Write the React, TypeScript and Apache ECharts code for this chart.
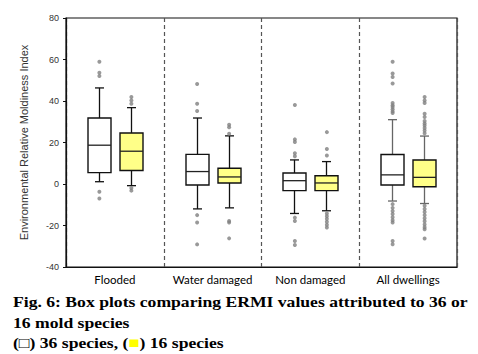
import React, { useEffect, useRef } from "react";
import * as echarts from "echarts";

const categories = ["Flooded", "Water damaged", "Non damaged", "All dwellings"];
const yTicks = { min: -40, max: 80, interval: 20 };

// [lower whisker, Q1, median, Q3, upper whisker]
const box36 = [
  [1.1, 5.5, 18.7, 31.8, 46.3],
  [-12.0, -0.5, 6.0, 14.3, 31.8],
  [-14.2, -3.2, 1.6, 5.3, 11.6],
  [-8.2, -0.5, 4.4, 14.2, 31.0],
];
const box16 = [
  [-0.8, 6.5, 15.8, 24.6, 36.8],
  [-11.5, 0.5, 3.4, 7.6, 23.2],
  [-12.9, -3.2, 0.5, 4.0, 10.8],
  [-9.4, -1.3, 3.2, 11.6, 23.1],
];

const outliers36 = [
  [58.9, 53.6, 52.0, -3.7, -7.0],
  [48.2, 38.7, 35.2, -15.0, -18.6, -29.1],
  [38.1, 21.5, 20.2, 14.8, 13.4, -16.2, -17.8, -27.5, -29.4],
  [58.9, 53.3, 51.6, 48.4, 39.0, 38.0, 37.1, 36.0, 35.0, 34.2, -9.7, -11.5, -13.0, -14.5, -16.0, -17.5, -18.6, -27.5, -29.0],
];
const outliers16 = [
  [41.9, 40.3, 38.7, -1.9, -3.2],
  [28.6, 27.4, 24.2, -17.8, -18.6, -26.2],
  [25.0, 16.9, 13.7, -14.2, -15.5, -16.8, -18.2, -19.6, -21.0],
  [41.9, 40.3, 39.0, 33.9, 32.3, 30.4, 29.2, 28.2, 27.0, 25.8, 24.5, -10.5, -12.0, -13.5, -15.0, -16.5, -18.0, -19.5, -20.8, -21.8, -26.3],
];

const captionLines = [
  "Fig. 6: Box plots comparing ERMI values attributed to 36 or",
  "16 mold species",
];

const BOX_W = 23;
const CAP_W = 9;
const OFFSET = 16;
const whiskerColors = ["#111", "#111", "#111", "#666"];
const CAPTION_FONT = "bold 15px 'Liberation Serif'";
const CAPTION_SCALE = 1.175;

function makeRenderItem(offset: number, fill: string) {
  return (params: any, api: any) => {
    const cat = api.value(0);
    const lo = api.coord([cat, api.value(1)]);
    const q1 = api.coord([cat, api.value(2)]);
    const med = api.coord([cat, api.value(3)]);
    const q3 = api.coord([cat, api.value(4)]);
    const hi = api.coord([cat, api.value(5)]);
    const x = Math.round(lo[0] + offset) + 0.5;
    const wc = whiskerColors[cat] || "#111";
    const ls = { stroke: wc, lineWidth: 1.3 };
    return {
      type: "group",
      children: [
        { type: "line", shape: { x1: x, y1: hi[1], x2: x, y2: q3[1] }, style: ls },
        { type: "line", shape: { x1: x, y1: q1[1], x2: x, y2: lo[1] }, style: ls },
        { type: "line", shape: { x1: x - CAP_W / 2, y1: hi[1], x2: x + CAP_W / 2, y2: hi[1] }, style: ls },
        { type: "line", shape: { x1: x - CAP_W / 2, y1: lo[1], x2: x + CAP_W / 2, y2: lo[1] }, style: ls },
        {
          type: "rect",
          shape: { x: x - BOX_W / 2, y: q3[1], width: BOX_W, height: q1[1] - q3[1] },
          style: { fill, stroke: "#111", lineWidth: 1.4 },
        },
        { type: "line", shape: { x1: x - BOX_W / 2, y1: med[1], x2: x + BOX_W / 2, y2: med[1] }, style: { stroke: "#222", lineWidth: 1.3 } },
      ],
    };
  };
}

export default function App() {
  const ref = useRef<HTMLDivElement>(null);
  useEffect(() => {
    document.body.style.margin = "0";
    const chart = echarts.init(ref.current!, null, { renderer: "svg" });
    const boxData = (b: number[][]) => b.map((r, i) => [i, ...r]);
    const outData = (o: number[][]) => o.flatMap((arr, i) => arr.map((v) => [i, v]));
    chart.setOption({
      animation: false,
      backgroundColor: "#fff",
      grid: { left: 66, right: 21, top: 18, bottom: 87, show: true, borderColor: "#111", borderWidth: 1.2 },
      xAxis: {
        type: "category",
        data: categories,
        boundaryGap: true,
        axisLine: { onZero: false, lineStyle: { color: "#111", width: 1.2 } },
        axisTick: { show: false },
        axisLabel: { color: "#000", fontSize: 11.5, fontFamily: "Lato", margin: 6, interval: 0 },
        splitLine: { show: true, interval: 0, lineStyle: { type: [4, 3], color: "#555", width: 1.2 } },
      },
      yAxis: {
        type: "value",
        min: yTicks.min,
        max: yTicks.max,
        interval: yTicks.interval,
        name: "Environmental Relative Moldiness Index",
        nameLocation: "middle",
        nameGap: 37,
        nameTextStyle: { fontSize: 11, color: "#333", fontFamily: "Liberation Sans" },
        axisLine: { show: true, lineStyle: { color: "#111", width: 1.2 } },
        axisTick: { show: true, length: 3, lineStyle: { color: "#111" } },
        axisLabel: { color: "#333", fontSize: 9, fontFamily: "Liberation Sans", margin: 7 },
        splitLine: { show: false },
      },
      series: [
        {
          type: "custom",
          name: "36 species",
          renderItem: makeRenderItem(-OFFSET, "#ffffff"),
          encode: { x: 0, y: [1, 2, 3, 4, 5] },
          data: boxData(box36),
          z: 3,
        },
        {
          type: "custom",
          name: "16 species",
          renderItem: makeRenderItem(OFFSET, "#ffff88"),
          encode: { x: 0, y: [1, 2, 3, 4, 5] },
          data: boxData(box16),
          z: 3,
        },
        {
          type: "scatter",
          data: outData(outliers36),
          symbol: "circle",
          symbolSize: 4,
          symbolOffset: [-OFFSET + 0.5, 0],
          itemStyle: { color: "#7f7f7f" },
          z: 4,
        },
        {
          type: "scatter",
          data: outData(outliers16),
          symbol: "circle",
          symbolSize: 4,
          symbolOffset: [OFFSET + 0.5, 0],
          itemStyle: { color: "#7f7f7f" },
          z: 4,
        },
      ],
      graphic: [
        {
          type: "text",
          x: 13,
          y: 294,
          scaleX: CAPTION_SCALE,
          style: { text: captionLines[0], font: CAPTION_FONT, fill: "#000", verticalAlign: "top" },
        },
        {
          type: "text",
          x: 13,
          y: 315,
          scaleX: CAPTION_SCALE,
          style: { text: captionLines[1], font: CAPTION_FONT, fill: "#000", verticalAlign: "top" },
        },
        {
          type: "text",
          x: 13,
          y: 335,
          scaleX: CAPTION_SCALE,
          style: {
            text: "(□) 36 species, ({sq|■}) 16 species",
            font: CAPTION_FONT,
            fill: "#000",
            verticalAlign: "top",
            rich: { sq: { fill: "#ffff00", font: "bold 10px 'DejaVu Sans'", color: "#ffff00" } },
          },
        },
      ],
    });
    return () => chart.dispose();
  }, []);
  return <div ref={ref} style={{ width: 478, height: 354 }} />;
}
